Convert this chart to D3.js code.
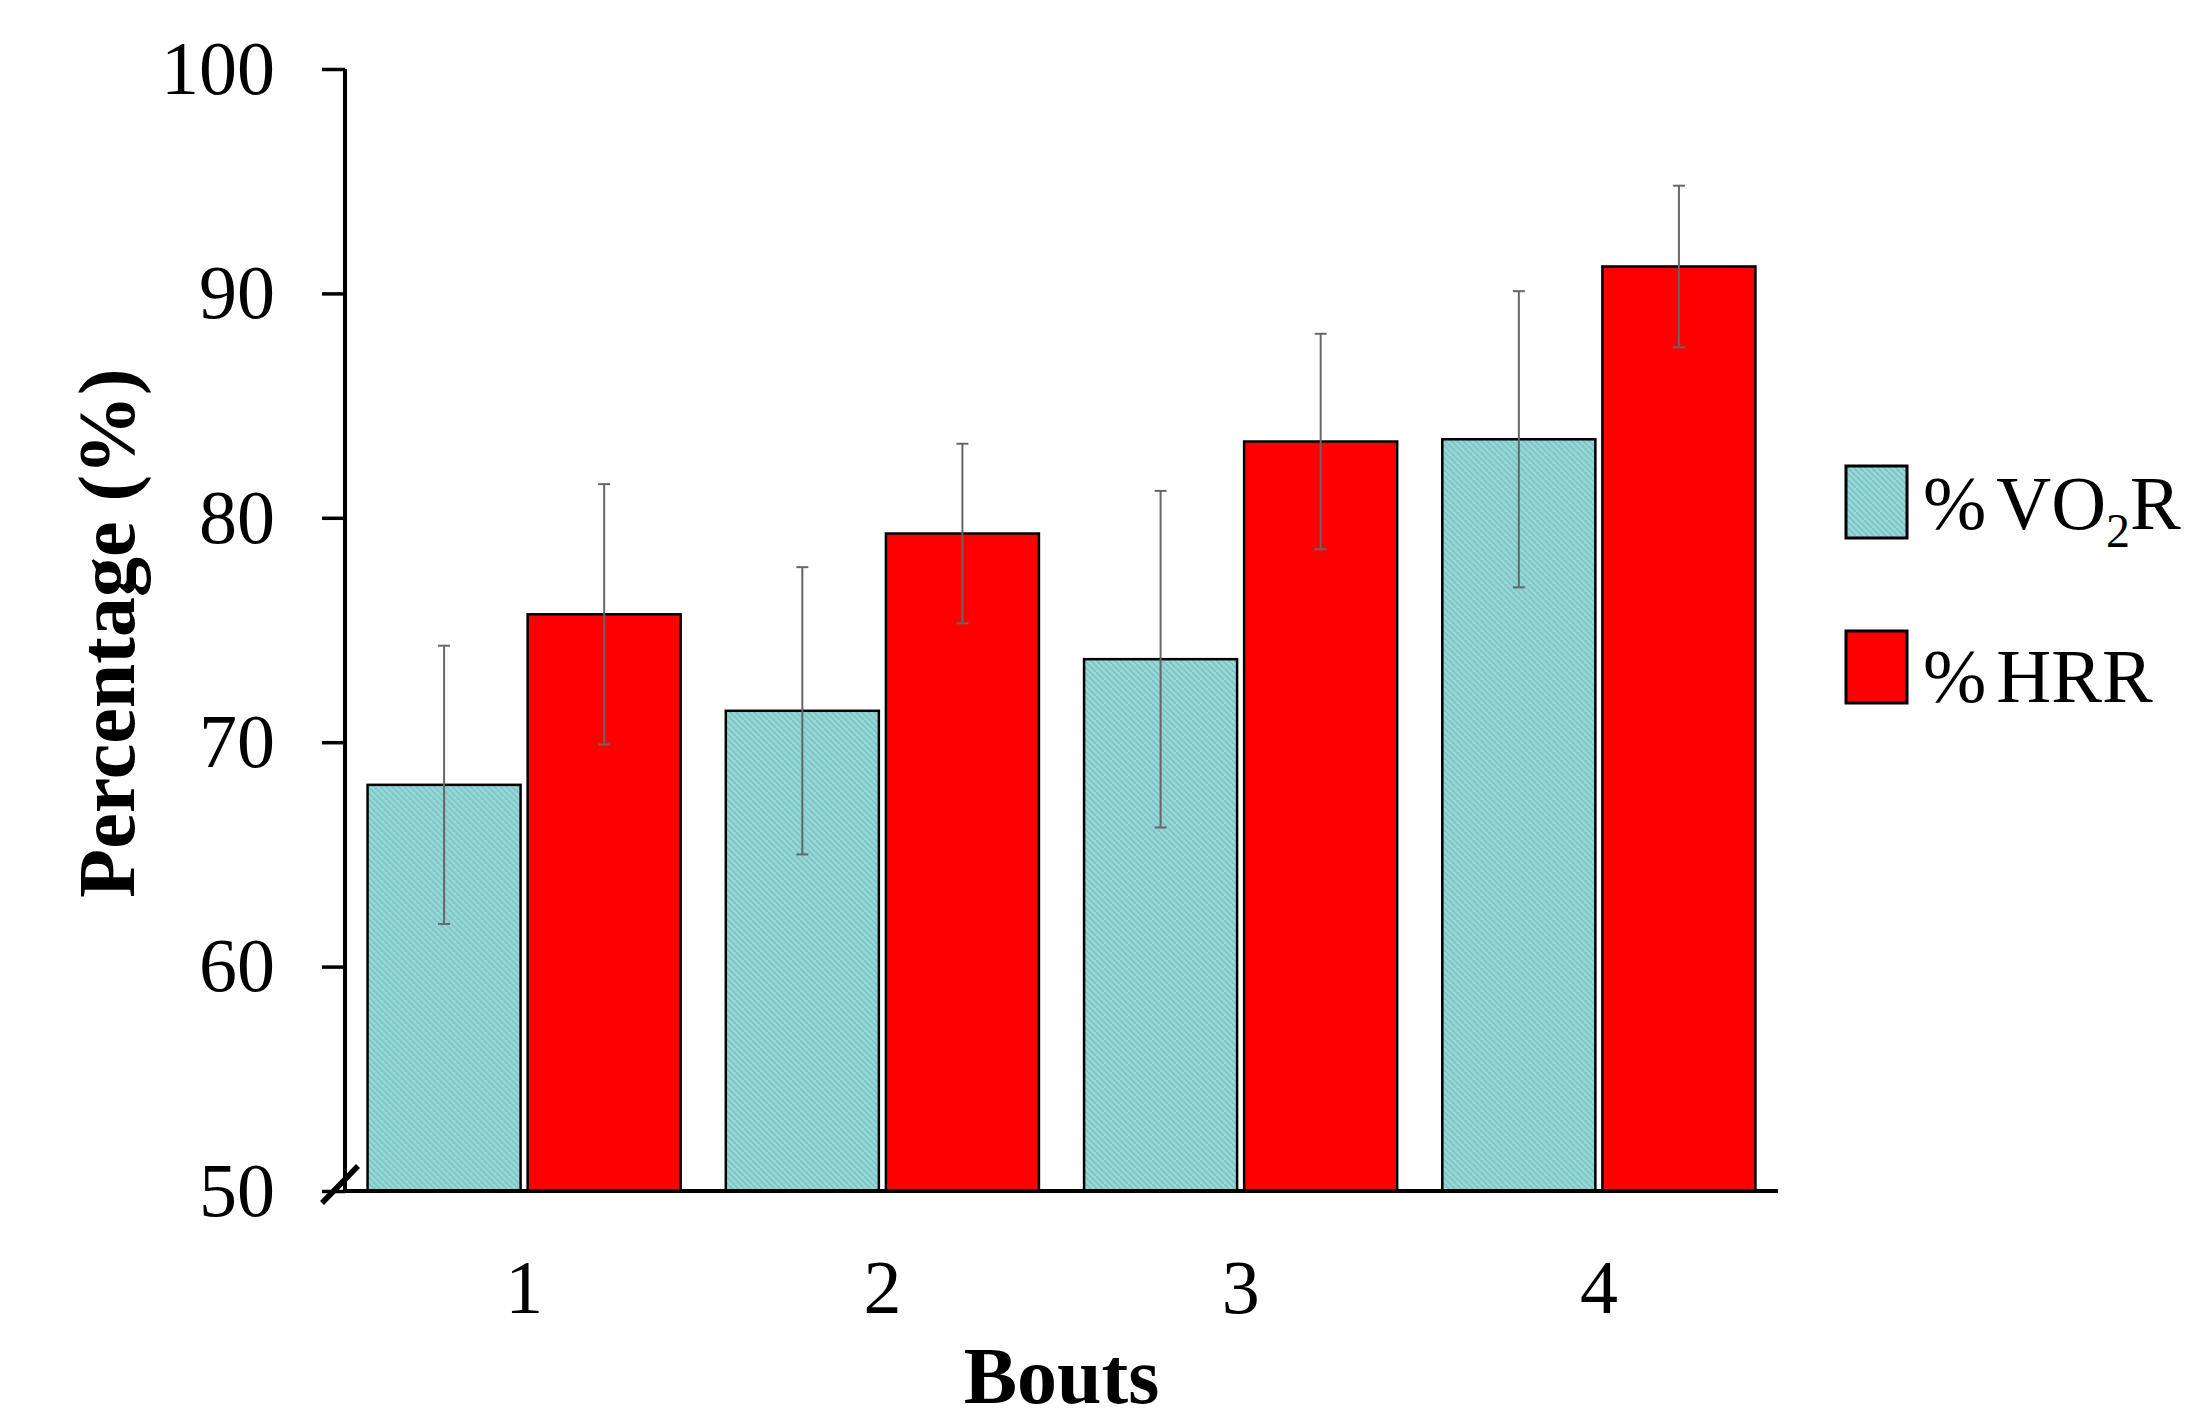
<!DOCTYPE html>
<html>
<head>
<meta charset="utf-8">
<script src="https://cdn.jsdelivr.net/npm/d3@7"></script>
<style>
  body { margin: 0; background: #fff; }
  svg text { font-family: "Liberation Serif", "Times New Roman", serif; }
</style>
</head>
<body>
<svg id="chart" width="2187" height="1419"></svg>
<script>
// data
var bouts = ["1", "2", "3", "4"];
var seriesNames = ["vo2r", "hrr"];
var vo2r = [68.1, 71.4, 73.7, 83.5];
var vo2rSd = [6.2, 6.4, 7.5, 6.6];
var hrr = [75.7, 79.3, 83.4, 91.2];
var hrrSd = [5.8, 4.0, 4.8, 3.6];
var yTicks = [50, 60, 70, 80, 90, 100];

var svg = d3.select("#chart");

// pattern for the cyan bars
var defs = svg.append("defs");
var pat = defs.append("pattern")
    .attr("id", "hatch")
    .attr("patternUnits", "userSpaceOnUse")
    .attr("width", 6)
    .attr("height", 6);
pat.append("rect").attr("width", 6).attr("height", 6).attr("fill", "#9bd6d7");
pat.append("path")
    .attr("d", "M-1,-1 L7,7 M-4,2 L2,8 M4,-2 L10,4")
    .attr("stroke", "#6fc1c3")
    .attr("stroke-width", 1.3);

// plot area (top is a reserved global, so use other names)
var plotLeft = 345, plotRight = 1778, plotTop = 69, plotBottom = 1191;

var x0 = d3.scaleBand()
    .domain(bouts)
    .range([plotLeft, plotRight])
    .paddingInner(0.126)
    .paddingOuter(0.063);

var x1 = d3.scaleBand()
    .domain(seriesNames)
    .range([0, x0.bandwidth()])
    .paddingInner(0.044);

var y = d3.scaleLinear()
    .domain([50, 100])
    .range([plotBottom, plotTop]);

var fills = { vo2r: "url(#hatch)", hrr: "#ff0000" };

var rows = bouts.map((b, i) => {
    return {
        bout: b,
        bars: [
            { key: "vo2r", value: vo2r[i], sd: vo2rSd[i] },
            { key: "hrr", value: hrr[i], sd: hrrSd[i] }
        ]
    };
});

// bars
var groups = svg.append("g").selectAll("g")
    .data(rows)
    .enter()
    .append("g")
    .attr("transform", d => "translate(" + x0(d.bout) + ",0)");

groups.selectAll("rect")
    .data(d => d.bars)
    .enter()
    .append("rect")
    .attr("x", d => x1(d.key))
    .attr("y", d => y(d.value))
    .attr("width", x1.bandwidth())
    .attr("height", d => y(50) - y(d.value))
    .attr("fill", d => fills[d.key])
    .attr("stroke", "#000")
    .attr("stroke-width", 2.5);

// error bars
var errs = groups.selectAll(".err")
    .data(d => d.bars)
    .enter()
    .append("g")
    .attr("class", "err")
    .attr("stroke", "#666")
    .attr("stroke-width", 2);

errs.append("line")
    .attr("x1", d => x1(d.key) + x1.bandwidth() / 2)
    .attr("x2", d => x1(d.key) + x1.bandwidth() / 2)
    .attr("y1", d => y(d.value + d.sd))
    .attr("y2", d => y(d.value - d.sd));
errs.append("line")
    .attr("x1", d => x1(d.key) + x1.bandwidth() / 2 - 6)
    .attr("x2", d => x1(d.key) + x1.bandwidth() / 2 + 6)
    .attr("y1", d => y(d.value + d.sd))
    .attr("y2", d => y(d.value + d.sd));
errs.append("line")
    .attr("x1", d => x1(d.key) + x1.bandwidth() / 2 - 6)
    .attr("x2", d => x1(d.key) + x1.bandwidth() / 2 + 6)
    .attr("y1", d => y(d.value - d.sd))
    .attr("y2", d => y(d.value - d.sd));

// y axis
var yAxis = svg.append("g")
    .attr("transform", "translate(" + plotLeft + ",0)")
    .call(d3.axisLeft(y).tickValues(yTicks).tickSize(23).tickPadding(47));
yAxis.select(".domain").attr("stroke-width", 4).attr("d", "M0," + plotTop + "V" + plotBottom);
yAxis.selectAll(".tick line").attr("stroke-width", 3.5);
yAxis.selectAll(".tick text")
    .attr("font-size", 76)
    .attr("fill", "#000")
    .attr("font-family", "Liberation Serif, Times New Roman, serif");

// x axis
var xAxis = svg.append("g")
    .attr("transform", "translate(0," + plotBottom + ")")
    .call(d3.axisBottom(x0).tickSize(0).tickPadding(68));
xAxis.select(".domain").attr("stroke-width", 4).attr("d", "M" + plotLeft + ",0H" + plotRight);
xAxis.selectAll(".tick text")
    .attr("font-size", 76)
    .attr("fill", "#000")
    .attr("font-family", "Liberation Serif, Times New Roman, serif");

// axis break mark
svg.append("line")
    .attr("x1", plotLeft - 23)
    .attr("y1", plotBottom + 12)
    .attr("x2", plotLeft + 13)
    .attr("y2", plotBottom - 25)
    .attr("stroke", "#000")
    .attr("stroke-width", 5.5);

// axis titles
svg.append("text")
    .attr("x", (plotLeft + plotRight) / 2)
    .attr("y", 1403)
    .attr("text-anchor", "middle")
    .attr("font-size", 80)
    .attr("font-weight", "bold")
    .text("Bouts");

svg.append("text")
    .attr("transform", "translate(134," + ((plotTop + plotBottom) / 2 + 3) + ") rotate(-90)")
    .attr("text-anchor", "middle")
    .attr("font-size", 80)
    .attr("font-weight", "bold")
    .text("Percentage (%)");

// legend
var legend = svg.append("g");
legend.append("rect")
    .attr("x", 1846).attr("y", 466).attr("width", 61).attr("height", 72)
    .attr("fill", fills.vo2r).attr("stroke", "#000").attr("stroke-width", 3);
legend.append("rect")
    .attr("x", 1846).attr("y", 631).attr("width", 61).attr("height", 72)
    .attr("fill", fills.hrr).attr("stroke", "#000").attr("stroke-width", 3);

var t1 = legend.append("text").attr("x", 1923).attr("y", 529).attr("font-size", 76);
t1.append("tspan").text("%");
t1.append("tspan").attr("dx", 10).text("VO");
t1.append("tspan").attr("font-size", 48).attr("dy", 18).text("2");
t1.append("tspan").attr("dy", -18).text("R");

var t2 = legend.append("text").attr("x", 1923).attr("y", 702).attr("font-size", 76);
t2.append("tspan").text("%");
t2.append("tspan").attr("dx", 10).text("HRR");
</script>
</body>
</html>
